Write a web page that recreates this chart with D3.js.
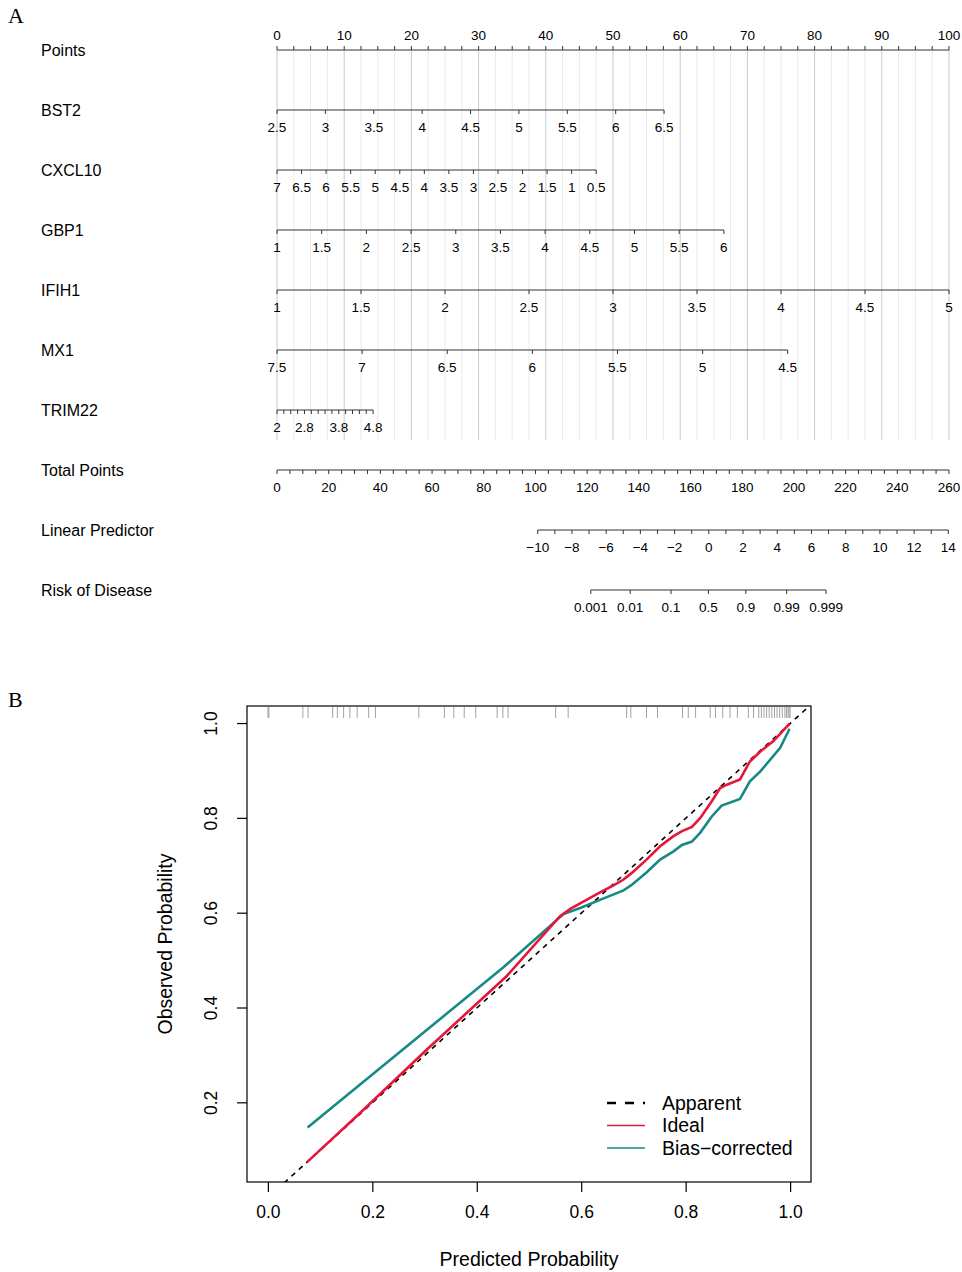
<!DOCTYPE html>
<html>
<head>
<meta charset="utf-8">
<script src="https://cdn.jsdelivr.net/npm/d3@7/dist/d3.min.js"></script>
<style>
	body { margin: 0; background: #fff; }
	text { font-family: Arial, "Liberation Sans", sans-serif; fill: #000; }
</style>
</head>
<body>
<script>
// ---- nomogram data (value labels and the points they span) ----
var pointsLabels = [0, 10, 20, 30, 40, 50, 60, 70, 80, 90, 100];
var bst2Labels = [2.5, 3, 3.5, 4, 4.5, 5, 5.5, 6, 6.5];
var bst2Points = [0, 57.6];
var cxcl10Labels = [7, 6.5, 6, 5.5, 5, 4.5, 4, 3.5, 3, 2.5, 2, 1.5, 1, 0.5];
var cxcl10Points = [0, 47.5];
var gbp1Labels = [1, 1.5, 2, 2.5, 3, 3.5, 4, 4.5, 5, 5.5, 6];
var gbp1Points = [0, 66.5];
var ifih1Labels = [1, 1.5, 2, 2.5, 3, 3.5, 4, 4.5, 5];
var ifih1Points = [0, 100];
var mx1Labels = [7.5, 7, 6.5, 6, 5.5, 5, 4.5];
var mx1Points = [0, 76];
var trim22Labels = [2, 2.8, 3.8, 4.8];
var trim22Range = [2, 4.8];
var trim22Points = [0, 14.3];
var totalLabels = [0, 20, 40, 60, 80, 100, 120, 140, 160, 180, 200, 220, 240, 260];
var totalPoints = [0, 100];
var lpLabels = [-10, -8, -6, -4, -2, 0, 2, 4, 6, 8, 10, 12, 14];
var lpPoints = [38.8, 99.9];
var riskLabels = [0.001, 0.01, 0.1, 0.5, 0.9, 0.99, 0.999];
var riskPoints = [46.7, 81.7];

// ---- calibration data ----
var rugProbs = [0.0, 0.002, 0.067, 0.077, 0.124, 0.133, 0.145, 0.157, 0.171, 0.193, 0.206,
	0.289, 0.338, 0.356, 0.376, 0.398, 0.439, 0.45, 0.46, 0.551, 0.575, 0.687, 0.695,
	0.725, 0.746, 0.794, 0.805, 0.819, 0.847, 0.857, 0.871, 0.885, 0.899, 0.92, 0.93,
	0.94, 0.945, 0.95, 0.955, 0.96, 0.965, 0.97, 0.975, 0.98, 0.985, 0.99, 0.993, 0.996, 0.998, 1.0];
var apparentX = [-0.04, 1.04];
var apparentY = [-0.04, 1.04];
var idealX = [0.075, 0.176, 0.304, 0.457, 0.559, 0.579, 0.636, 0.661, 0.681, 0.697, 0.725, 0.751,
	0.776, 0.793, 0.812, 0.828, 0.85, 0.866, 0.879, 0.904, 0.923, 0.943, 0.968, 0.999];
var idealY = [0.075, 0.178, 0.312, 0.467, 0.593, 0.609, 0.644, 0.658, 0.671, 0.685, 0.713, 0.741,
	0.762, 0.773, 0.782, 0.801, 0.836, 0.864, 0.871, 0.882, 0.92, 0.941, 0.963, 1.0];
var biasX = [0.076, 0.451, 0.566, 0.598, 0.636, 0.681, 0.697, 0.725, 0.751, 0.776, 0.793, 0.812,
	0.828, 0.85, 0.869, 0.904, 0.923, 0.943, 0.981, 0.999];
var biasY = [0.148, 0.486, 0.598, 0.611, 0.628, 0.648, 0.66, 0.686, 0.713, 0.73, 0.744, 0.751,
	0.77, 0.804, 0.827, 0.841, 0.878, 0.899, 0.949, 0.989];
var calXTicks = [0, 0.2, 0.4, 0.6, 0.8, 1.0];
var calYTicks = [0.2, 0.4, 0.6, 0.8, 1.0];
var legendNames = ["Apparent", "Ideal", "Bias\u2212corrected"];

var W = 962, H = 1272;
var svg = d3.select("body").append("svg")
	.attr("width", W)
	.attr("height", H);
svg.append("rect").attr("width", W).attr("height", H).attr("fill", "#fff");

var red = "#e8153b";
var teal = "#178a84";

// ================= A: nomogram =================
svg.append("text")
	.attr("x", 8).attr("y", 23)
	.style("font-family", "'Liberation Serif', 'Times New Roman', serif")
	.style("font-size", "22px")
	.text("A");

var pts = d3.scaleLinear().domain([0, 100]).range([277, 949]);
var rowTop = 50;
var rowGap = 60;

function logit(p) { return Math.log(p / (1 - p)); }

// grid lines behind the rows
var gridVals = d3.range(0, 100.001, 2.5);
svg.append("g").selectAll("line")
	.data(gridVals)
	.join("line")
	.attr("x1", d => pts(d)).attr("x2", d => pts(d))
	.attr("y1", rowTop).attr("y2", rowTop + 6 * rowGap + 30)
	.attr("stroke", d => d % 10 === 0 ? "#c9c9c9" : "#ebebeb")
	.attr("stroke-width", 1);

var rows = [
	{ name: "Points", labels: pointsLabels, ticks: gridVals, dom: [0, 100], span: [0, 100], up: true },
	{ name: "BST2", labels: bst2Labels, dom: [2.5, 6.5], span: bst2Points },
	{ name: "CXCL10", labels: cxcl10Labels, dom: [7, 0.5], span: cxcl10Points },
	{ name: "GBP1", labels: gbp1Labels, dom: [1, 6], span: gbp1Points },
	{ name: "IFIH1", labels: ifih1Labels, dom: [1, 5], span: ifih1Points },
	{ name: "MX1", labels: mx1Labels, dom: [7.5, 4.5], span: mx1Points },
	{ name: "TRIM22", labels: trim22Labels, ticks: d3.range(trim22Range[0], trim22Range[1] + 0.001, 0.2),
		dom: trim22Range, span: trim22Points },
	{ name: "Total Points", labels: totalLabels, ticks: d3.range(0, 260.001, 5), dom: [0, 260], span: totalPoints },
	{ name: "Linear Predictor", labels: lpLabels, ticks: d3.range(-10, 14.001, 1), dom: [-10, 14], span: lpPoints },
	{ name: "Risk of Disease", labels: riskLabels, dom: [logit(0.001), logit(0.999)], span: riskPoints, risk: true }
];

rows.forEach(function (r, i) {
	var y = rowTop + i * rowGap;
	var sc = d3.scaleLinear().domain(r.dom).range([pts(r.span[0]), pts(r.span[1])]);
	var pos = r.risk ? function (v) { return sc(logit(v)); } : sc;
	var g = svg.append("g");

	g.append("text")
		.attr("x", 41).attr("y", y + 6)
		.style("font-size", "16px")
		.text(r.name);

	g.append("line")
		.attr("x1", sc(r.dom[0])).attr("x2", sc(r.dom[1]))
		.attr("y1", y).attr("y2", y)
		.attr("stroke", "#333").attr("stroke-width", 1.2);

	var ticks = r.ticks || r.labels;
	g.selectAll(".tk")
		.data(ticks)
		.join("line")
		.attr("class", "tk")
		.attr("x1", d => pos(d)).attr("x2", d => pos(d))
		.attr("y1", y).attr("y2", r.up ? y - 4 : y + 4)
		.attr("stroke", "#333").attr("stroke-width", 1);

	g.selectAll(".lb")
		.data(r.labels)
		.join("text")
		.attr("class", "lb")
		.attr("x", d => pos(d))
		.attr("y", r.up ? y - 10 : y + 22)
		.attr("text-anchor", "middle")
		.style("font-size", "13.5px")
		.text(d => r.risk ? String(d) : (d < 0 ? "\u2212" + Math.abs(d) : String(d)));
});

// ================= B: calibration =================
svg.append("text")
	.attr("x", 8).attr("y", 707)
	.style("font-family", "'Liberation Serif', 'Times New Roman', serif")
	.style("font-size", "22px")
	.text("B");

var box = { l: 247, r: 811, t: 706, b: 1182 };
var xc = d3.scaleLinear().domain([-0.04, 1.04]).range([box.l, box.r]);
var yc = d3.scaleLinear().domain([0.033, 1.037]).range([box.b, box.t]);

svg.append("clipPath").attr("id", "calclip")
	.append("rect")
	.attr("x", box.l).attr("y", box.t)
	.attr("width", box.r - box.l).attr("height", box.b - box.t);

// rug of predicted probabilities
svg.append("g").selectAll("line")
	.data(rugProbs)
	.join("line")
	.attr("x1", d => xc(d)).attr("x2", d => xc(d))
	.attr("y1", box.t + 1).attr("y2", box.t + 12)
	.attr("stroke", "#8a8a8a").attr("stroke-width", 0.8);

var line = d3.line().x(d => xc(d[0])).y(d => yc(d[1]));
var plot = svg.append("g").attr("clip-path", "url(#calclip)");

plot.append("path")
	.datum(d3.zip(apparentX, apparentY))
	.attr("d", line)
	.attr("fill", "none").attr("stroke", "#000")
	.attr("stroke-width", 1.6).attr("stroke-dasharray", "5,5");

plot.append("path")
	.datum(d3.zip(biasX, biasY))
	.attr("d", line)
	.attr("fill", "none").attr("stroke", teal)
	.attr("stroke-width", 2.6);

plot.append("path")
	.datum(d3.zip(idealX, idealY))
	.attr("d", line)
	.attr("fill", "none").attr("stroke", red)
	.attr("stroke-width", 2.6);

svg.append("rect")
	.attr("x", box.l).attr("y", box.t)
	.attr("width", box.r - box.l).attr("height", box.b - box.t)
	.attr("fill", "none").attr("stroke", "#000").attr("stroke-width", 1.2);

// axes
var xAxis = svg.append("g").attr("transform", "translate(0," + box.b + ")")
	.call(d3.axisBottom(xc).tickValues(calXTicks).tickSize(10).tickPadding(14).tickFormat(d3.format(".1f")));
var yAxis = svg.append("g").attr("transform", "translate(" + box.l + ",0)")
	.call(d3.axisLeft(yc).tickValues(calYTicks).tickSize(10).tickFormat(d3.format(".1f")));
[xAxis, yAxis].forEach(function (a) {
	a.select(".domain").remove();
	a.selectAll("line").attr("stroke", "#000").attr("stroke-width", 1.2);
	a.selectAll("text").style("font-size", "17.5px").style("font-family", "Arial, 'Liberation Sans', sans-serif");
});
yAxis.selectAll("text")
	.attr("x", null).attr("dy", null)
	.attr("text-anchor", "middle")
	.attr("transform", d => "translate(-30," + yc(d) + ") rotate(-90)")
	.attr("y", 0);
yAxis.selectAll(".tick").attr("transform", "translate(0,0)");
yAxis.selectAll(".tick line").attr("y1", d => yc(d)).attr("y2", d => yc(d));

svg.append("text")
	.attr("x", (box.l + box.r) / 2).attr("y", 1266)
	.attr("text-anchor", "middle")
	.style("font-size", "19.5px")
	.text("Predicted Probability");

svg.append("text")
	.attr("transform", "translate(172," + (box.t + box.b) / 2 + ") rotate(-90)")
	.attr("text-anchor", "middle")
	.style("font-size", "19.5px")
	.text("Observed Probability");

// legend
var legStyles = [
	{ stroke: "#000", w: 2.6, dash: "9,9" },
	{ stroke: red, w: 1.6, dash: null },
	{ stroke: teal, w: 1.6, dash: null }
];
var leg = svg.append("g");
legendNames.forEach(function (n, i) {
	var y = 1103 + i * 22.5;
	leg.append("line")
		.attr("x1", 607).attr("x2", 645)
		.attr("y1", y).attr("y2", y)
		.attr("stroke", legStyles[i].stroke)
		.attr("stroke-width", legStyles[i].w)
		.attr("stroke-dasharray", legStyles[i].dash);
	leg.append("text")
		.attr("x", 662).attr("y", y + 6.5)
		.style("font-size", "19.5px")
		.text(n);
});
</script>
</body>
</html>
